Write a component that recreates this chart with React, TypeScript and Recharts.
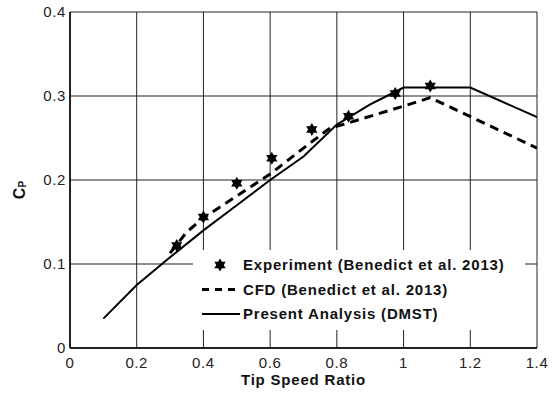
import {
  ComposedChart,
  Line,
  Scatter,
  XAxis,
  YAxis,
  CartesianGrid,
  Legend,
  Label,
} from 'recharts'

// Tip speed ratio / power coefficient pairs
const expTsr = [0.32, 0.4, 0.5, 0.605, 0.725, 0.835, 0.975, 1.08]
const expCp = [0.122, 0.156, 0.196, 0.226, 0.26, 0.276, 0.303, 0.312]

const cfdTsr = [0.3, 0.35, 0.4, 0.5, 0.6, 0.7, 0.78, 0.81, 1.0, 1.08, 1.4]
const cfdCp = [0.113, 0.138, 0.155, 0.181, 0.207, 0.238, 0.262, 0.265, 0.288, 0.298, 0.238]

const dmstTsr = [0.1, 0.2, 0.3, 0.4, 0.5, 0.6, 0.7, 0.8, 0.9, 0.95, 1.0, 1.2, 1.4]
const dmstCp = [0.035, 0.075, 0.108, 0.14, 0.17, 0.2, 0.228, 0.266, 0.29, 0.3, 0.31, 0.31, 0.275]

const xTicks = [0, 0.2, 0.4, 0.6, 0.8, 1, 1.2, 1.4]
const yTicks = [0, 0.1, 0.2, 0.3, 0.4]

const toPoints = (xs: number[], ys: number[]) => xs.map((x, i) => ({ x, y: ys[i] }))

const expData = toPoints(expTsr, expCp)
const cfdData = toPoints(cfdTsr, cfdCp)
const dmstData = toPoints(dmstTsr, dmstCp)

const FONT = '"Liberation Sans", Arial, Helvetica, sans-serif'

function hexagram(cx: number, cy: number, r: number) {
  const tri = (start: number) =>
    [0, 1, 2]
      .map((k) => {
        const a = ((start + k * 120) * Math.PI) / 180
        return `${cx + r * Math.sin(a)},${cy - r * Math.cos(a)}`
      })
      .join(' ')
  return (
    <g>
      <polygon points={tri(0)} fill="#000" />
      <polygon points={tri(180)} fill="#000" />
    </g>
  )
}

const StarShape = (props: any) => hexagram(props.cx, props.cy, 6.5)

const legendItems = [
  { key: 'exp', label: 'Experiment (Benedict et al. 2013)' },
  { key: 'cfd', label: 'CFD (Benedict et al. 2013)' },
  { key: 'dmst', label: 'Present Analysis (DMST)' },
]

function renderLegend() {
  return (
    <svg width={332} height={80} style={{ display: 'block', background: '#fff' }}>
      {legendItems.map((item, i) => {
        const cy = 15 + i * 24.5
        return (
          <g key={item.key}>
            {item.key === 'exp' && hexagram(27, cy, 6.5)}
            {item.key === 'cfd' && (
              <line x1={9} x2={47} y1={cy} y2={cy} stroke="#000" strokeWidth={3} strokeDasharray="7 6" />
            )}
            {item.key === 'dmst' && (
              <line x1={9} x2={47} y1={cy} y2={cy} stroke="#000" strokeWidth={2} />
            )}
            <text
              x={50}
              y={cy + 5}
              fontSize={15}
              fontWeight="bold"
              letterSpacing={0.8}
              fill="#111"
              style={{ fontFamily: FONT }}
            >
              {item.label}
            </text>
          </g>
        )
      })}
    </svg>
  )
}

const CpLabel = (props: any) => {
  const vb = props.viewBox || { x: 0, y: 12, width: 70, height: 336 }
  const x = vb.x + 25
  const y = vb.y + vb.height / 2 + 10
  return (
    <text
      x={x}
      y={y}
      transform={`rotate(-90, ${x}, ${y})`}
      textAnchor="middle"
      fontWeight="bold"
      fontSize={16}
      fill="#111"
      style={{ fontFamily: FONT }}
    >
      <tspan>C</tspan>
      <tspan fontSize={10} dy={1}>P</tspan>
    </text>
  )
}

export default function App() {
  return (
    <div style={{ position: 'absolute', left: 0, top: 0, fontFamily: FONT, background: '#fff' }}>
      <ComposedChart width={560} height={397} margin={{ top: 12, right: 23, left: 0, bottom: 0 }}>
        <CartesianGrid stroke="#222" strokeWidth={1} />
        <XAxis
          type="number"
          dataKey="x"
          domain={[0, 1.4]}
          ticks={xTicks}
          height={49}
          tickSize={0}
          tickMargin={9}
          tickLine={false}
          axisLine={{ stroke: '#000', strokeWidth: 1.5 }}
          tick={{ fontSize: 15, fill: '#222', letterSpacing: 0.6 }}
          allowDataOverflow
        >
          <Label
            value="Tip Speed Ratio"
            position="insideBottom"
            offset={12}
            style={{ fontSize: 15, fontWeight: 'bold', fill: '#111', letterSpacing: 0.8 }}
          />
        </XAxis>
        <YAxis
          type="number"
          dataKey="y"
          domain={[0, 0.4]}
          ticks={yTicks}
          width={70}
          tickSize={0}
          tickMargin={4}
          tickLine={false}
          axisLine={{ stroke: '#000', strokeWidth: 1.5 }}
          tick={{ fontSize: 15, fill: '#222', letterSpacing: 0.6 }}
          allowDataOverflow
        >
          <Label content={CpLabel} />
        </YAxis>
        <Legend
          layout="horizontal"
          verticalAlign="middle"
          align="center"
          wrapperStyle={{ left: 193, top: 250, width: 332, height: 80 }}
          content={renderLegend}
        />
        <Line
          data={dmstData}
          dataKey="y"
          type="linear"
          stroke="#000"
          strokeWidth={2}
          dot={false}
          activeDot={false}
          isAnimationActive={false}
          name="Present Analysis (DMST)"
        />
        <Line
          data={cfdData}
          dataKey="y"
          type="linear"
          stroke="#000"
          strokeWidth={3}
          strokeDasharray="9 6"
          dot={false}
          activeDot={false}
          isAnimationActive={false}
          name="CFD (Benedict et al. 2013)"
        />
        <Scatter
          data={expData}
          dataKey="y"
          shape={StarShape}
          isAnimationActive={false}
          name="Experiment (Benedict et al. 2013)"
        />
      </ComposedChart>
    </div>
  )
}
